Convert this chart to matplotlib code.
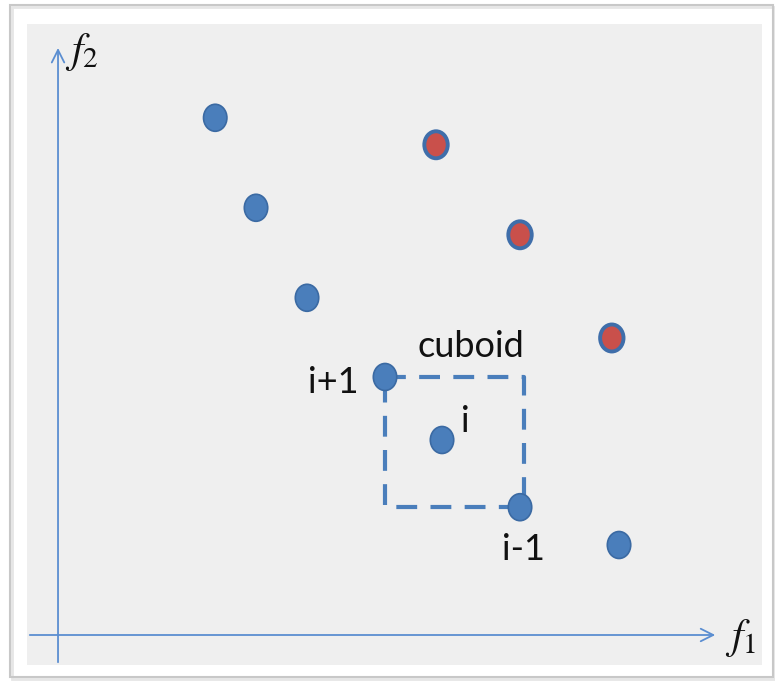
import matplotlib
matplotlib.use("Agg")
import matplotlib.pyplot as plt
from matplotlib.patches import Ellipse, Rectangle

plt.rcParams['mathtext.fontset'] = 'stix'

# Data (objective space, arbitrary units)
blue_f1 = [2.62, 3.30, 4.15, 5.45, 6.40, 7.70, 9.35]
blue_f2 = [8.62, 7.12, 5.62, 4.30, 3.25, 2.13, 1.50]
red_f1 = [6.30, 7.70, 9.23]
red_f2 = [8.17, 6.67, 4.95]
# indices of i+1, i, i-1 in the blue front
idx_ip1, idx_i, idx_im1 = 3, 4, 5
point_labels = ["i+1", "i", "i-1"]

fig = plt.figure(figsize=(7.75, 6.81), dpi=100)
fig.patch.set_facecolor('white')

# outer frame
fig.patches.append(Rectangle((10/775, 4/681), 763/775, 672/681, transform=fig.transFigure,
                             fill=False, edgecolor='#c8c8c8', lw=1.5))
fig.patches.append(Rectangle((12/775, 2/681), 763/775, 672/681, transform=fig.transFigure,
                             fill=False, edgecolor='#e6e6e6', lw=2, zorder=-1))

ax = fig.add_axes([27/775, 16/681, 735/775, 641/681])
ax.set_facecolor('#efefef')
ax.set_xlim(-0.517, 11.733)
ax.set_ylim(-0.5, 10.183)
for s in ax.spines.values():
    s.set_visible(False)
ax.set_xticks([]); ax.set_yticks([])

axis_color = '#5b8ed1'
ax.annotate('', xy=(11.0, 0), xytext=(-0.517, 0),
            arrowprops=dict(arrowstyle='->,head_length=0.9,head_width=0.45', color=axis_color, lw=1.3))
ax.annotate('', xy=(0, 9.83), xytext=(0, -0.5),
            arrowprops=dict(arrowstyle='->,head_length=0.9,head_width=0.45', color=axis_color, lw=1.3))
ax.text(11.12, -0.05, r'$f_1$', fontsize=30, va='center', ha='left', color='#111111')
ax.text(0.12, 9.72, r'$f_2$', fontsize=30, va='center', ha='left', color='#111111')

# cuboid around point i, bounded by i+1 and i-1
x0 = blue_f1[idx_ip1]; x1 = blue_f1[idx_im1]
y0 = blue_f2[idx_im1]; y1 = blue_f2[idx_ip1]
ax.plot([x0, x1 + 0.06, x1 + 0.06, x0, x0], [y1, y1, y0, y0, y1], color='#4a7ebb', lw=3,
        linestyle=(0, (5, 3.2)), zorder=2)

w, h = 0.39, 0.45
for x, y in zip(blue_f1, blue_f2):
    ax.add_patch(Ellipse((x, y), w, h, facecolor='#4a7ebb', edgecolor='#3b6aa3', lw=1.2, zorder=3))
for x, y in zip(red_f1, red_f2):
    ax.add_patch(Ellipse((x, y), w, h, facecolor='#c9504b', edgecolor='#3f6eaa', lw=2.8, zorder=3))

tfont = dict(family=['Lato', 'DejaVu Sans'], fontsize=26, color='#111111')
ax.text(blue_f1[idx_ip1] - 0.87, blue_f2[idx_ip1] - 0.1, point_labels[0], ha='center', va='center', **tfont)
ax.text(blue_f1[idx_i] + 0.38, blue_f2[idx_i] + 0.3, point_labels[1], ha='center', va='center', **tfont)
ax.text(blue_f1[idx_im1] + 0.05, blue_f2[idx_im1] - 0.71, point_labels[2], ha='center', va='center', **tfont)
ax.text((x0 + x1) / 2 + 0.3, y1 + 0.5, 'cuboid', ha='center', va='center', **tfont)

fig.savefig('out.png', dpi=100, facecolor='white')
